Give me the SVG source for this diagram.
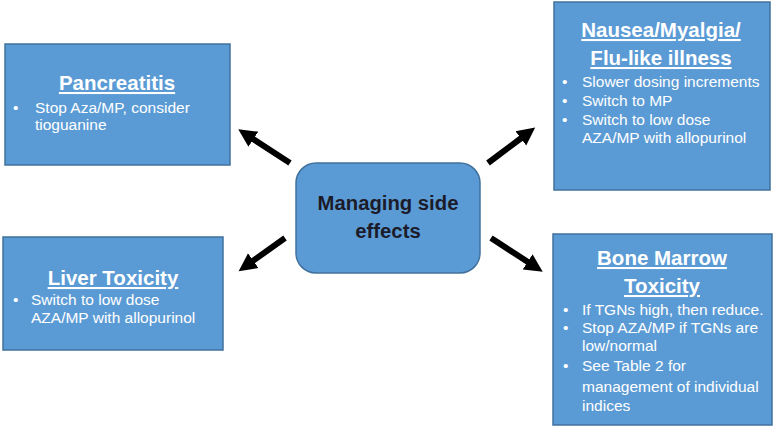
<svg xmlns="http://www.w3.org/2000/svg" width="774" height="431" viewBox="0 0 774 431">
<style>
.box{fill:#5B9BD5;stroke:#41719C;stroke-width:1.5}
.t{font-family:"Liberation Sans",Arial,sans-serif;fill:#fff}
.h{font-size:20.5px;font-weight:bold;text-anchor:middle;text-decoration:underline}
.b{font-size:15.5px}
.c{font-family:"Liberation Sans",Arial,sans-serif;font-size:20.3px;font-weight:bold;fill:#1b1b2a;text-anchor:middle}
.arr{stroke:#000;stroke-width:6;fill:none;marker-end:url(#ah)}
</style>
<defs>
<marker id="ah" markerUnits="userSpaceOnUse" markerWidth="20" markerHeight="20" viewBox="0 0 20 20" refX="4" refY="10" orient="auto">
<path d="M0,1 L18,10 L0,19 Z" fill="#000"/>
</marker>
</defs>
<rect width="774" height="431" fill="#fff"/>
<g id="pancreatitis">
<rect class="box" x="5" y="44" width="225" height="121"/>
<text class="t h" x="117" y="90">Pancreatitis</text>
<text class="t b" x="13" y="113">•</text>
<text class="t b" x="35" y="113">Stop Aza/MP, consider</text>
<text class="t b" x="35" y="130">tioguanine</text>
</g>
<g id="nausea">
<rect class="box" x="554" y="2" width="216" height="188"/>
<text class="t h" x="661" y="37">Nausea/Myalgia/</text>
<text class="t h" x="661" y="65">Flu-like illness</text>
<text class="t b" x="562" y="87">•</text>
<text class="t b" x="582" y="87">Slower dosing increments</text>
<text class="t b" x="562" y="106">•</text>
<text class="t b" x="582" y="106">Switch to MP</text>
<text class="t b" x="562" y="125">•</text>
<text class="t b" x="582" y="125">Switch to low dose</text>
<text class="t b" x="582" y="143">AZA/MP with allopurinol</text>
</g>
<g id="liver">
<rect class="box" x="3" y="237" width="220" height="113"/>
<text class="t h" x="113" y="285">Liver Toxicity</text>
<text class="t b" x="13" y="305">•</text>
<text class="t b" x="31" y="305">Switch to low dose</text>
<text class="t b" x="31" y="323">AZA/MP with allopurinol</text>
</g>
<g id="bonemarrow">
<rect class="box" x="553" y="234" width="219" height="191"/>
<text class="t h" x="662" y="265">Bone Marrow</text>
<text class="t h" x="662" y="293">Toxicity</text>
<text class="t b" x="563" y="315">•</text>
<text class="t b" x="582" y="315">If TGNs high, then reduce.</text>
<text class="t b" x="563" y="333">•</text>
<text class="t b" x="582" y="333">Stop AZA/MP if TGNs are</text>
<text class="t b" x="582" y="351">low/normal</text>
<text class="t b" x="563" y="371">•</text>
<text class="t b" x="582" y="371">See Table 2 for</text>
<text class="t b" x="582" y="392">management of individual</text>
<text class="t b" x="582" y="411">indices</text>
</g>
<g id="center">
<rect x="296" y="163" width="184" height="110" rx="20" ry="20" fill="#5B9BD5" stroke="#41719C" stroke-width="1.5"/>
<text class="c" x="388" y="210">Managing side</text>
<text class="c" x="388" y="238">effects</text>
</g>
<g id="connectors">
<line class="arr" x1="290" y1="163" x2="250" y2="137"/>
<line class="arr" x1="488" y1="163" x2="524" y2="136"/>
<line class="arr" x1="285" y1="238" x2="250" y2="263"/>
<line class="arr" x1="491" y1="238" x2="531" y2="264"/>
</g>
</svg>
